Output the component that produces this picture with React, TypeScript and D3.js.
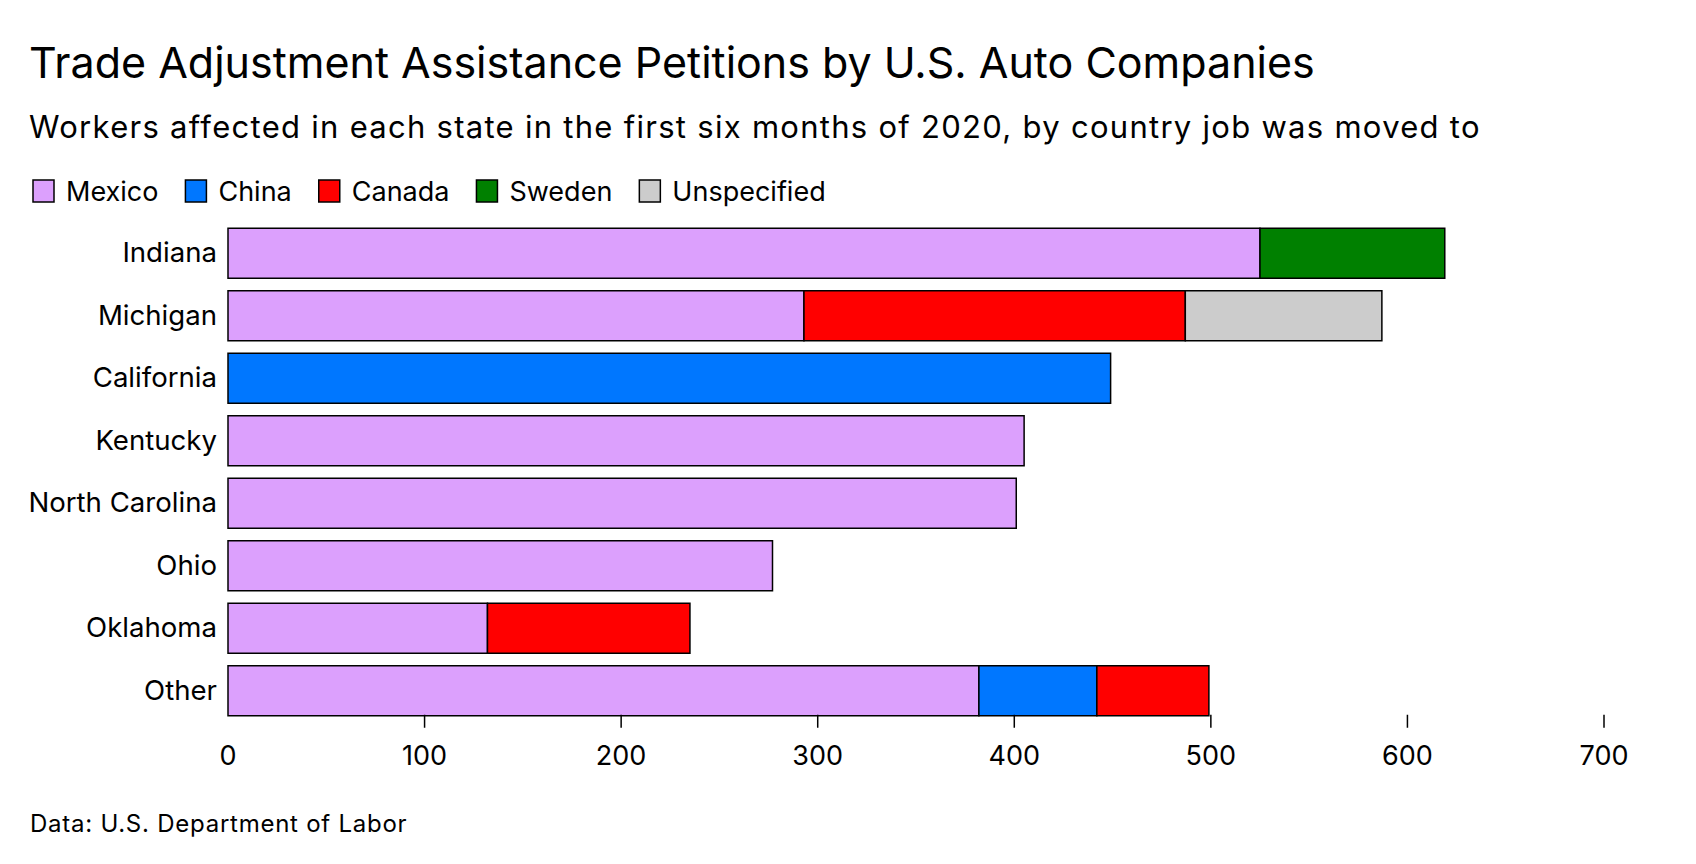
import React, { useEffect } from 'react'
import * as d3 from 'd3'

// states, top to bottom
const states = ['Indiana', 'Michigan', 'California', 'Kentucky', 'North Carolina', 'Ohio', 'Oklahoma', 'Other']

// destination countries (stack order, left to right)
const countries = ['Mexico', 'China', 'Canada', 'Sweden', 'Unspecified']

// workers affected, one value per state
const mexico = [525, 293, 0, 405, 401, 277, 132, 382]
const china = [0, 0, 449, 0, 0, 0, 0, 60]
const canada = [0, 194, 0, 0, 0, 0, 103, 57]
const sweden = [94, 0, 0, 0, 0, 0, 0, 0]
const unspecified = [0, 100, 0, 0, 0, 0, 0, 0]

const xTicks = [0, 100, 200, 300, 400, 500, 600, 700]

const colors: Record<string, string> = {
  Mexico: '#dca0fd',
  China: '#0077ff',
  Canada: '#ff0000',
  Sweden: '#008000',
  Unspecified: '#cccccc',
}

const W = 1696
const H = 864
const FONT = 'Inter, "Liberation Sans", Arial, sans-serif'

// rough text width for legend layout
const measure = (text: string, size: number) => {
  const ctx = document.createElement('canvas').getContext('2d')
  if (!ctx) return text.length * size * 0.55
  ctx.font = `${size}px ${FONT}`
  return ctx.measureText(text).width
}

export default function App() {
  useEffect(() => {
    document.body.style.margin = '0'
  }, [])

  const table = states.map((s, i) => ({
    state: s,
    Mexico: mexico[i],
    China: china[i],
    Canada: canada[i],
    Sweden: sweden[i],
    Unspecified: unspecified[i],
  }))
  const series = d3.stack<any>().keys(countries)(table)

  const x = d3.scaleLinear().domain([0, 700]).range([228, 1604])
  const y = d3.scaleBand().domain(states).range([222, 722]).paddingInner(0.2).paddingOuter(0.1)
  const baseY = (y(states[states.length - 1]) ?? 0) + y.bandwidth()

  // legend layout
  const legendSize = 27
  let lx = 33
  const legend = countries.map((c) => {
    const item = { c, x: lx }
    lx += 21 + 12 + measure(c, legendSize) + 27
    return item
  })

  return (
    <svg width={W} height={H} style={{ display: 'block', background: '#fff' }} fontFamily={FONT}>
      <text x={29} y={78} fontSize={43} fill="#000">
        Trade Adjustment Assistance Petitions by U.S. Auto Companies
      </text>
      <text x={29} y={137.5} fontSize={31} letterSpacing={1.28} fill="#000">
        Workers affected in each state in the first six months of 2020, by country job was moved to
      </text>

      {legend.map((l) => (
        <g key={l.c}>
          <rect x={l.x} y={180} width={21} height={22} fill={colors[l.c]} stroke="#000" strokeWidth={1.5} />
          <text x={l.x + 33} y={201} fontSize={legendSize} fill="#000">
            {l.c}
          </text>
        </g>
      ))}

      {series.map((s) => (
        <g key={s.key} fill={colors[s.key]}>
          {s
            .filter((d) => d[1] - d[0] > 0)
            .map((d) => (
              <rect
                key={d.data.state}
                x={x(d[0])}
                y={y(d.data.state)}
                width={x(d[1]) - x(d[0])}
                height={y.bandwidth()}
                stroke="#000"
                strokeWidth={1.5}
              />
            ))}
        </g>
      ))}

      {states.map((s) => (
        <text
          key={s}
          x={217}
          y={(y(s) ?? 0) + y.bandwidth() / 2 + 9}
          textAnchor="end"
          fontSize={27.6}
          fill="#000"
        >
          {s}
        </text>
      ))}

      {xTicks.map((t) => (
        <g key={t}>
          {t > 0 && <line x1={x(t)} x2={x(t)} y1={baseY - 1} y2={baseY + 12} stroke="#000" strokeWidth={1.5} />}
          <text x={x(t)} y={765} textAnchor="middle" fontSize={27} fill="#000">
            {t}
          </text>
        </g>
      ))}

      <text x={30} y={832} fontSize={24} letterSpacing={0.75} fill="#000">
        Data: U.S. Department of Labor
      </text>
    </svg>
  )
}
